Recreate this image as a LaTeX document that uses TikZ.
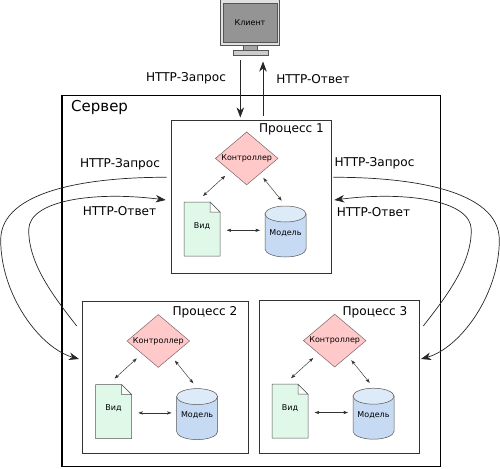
\documentclass[tikz,border=0pt]{standalone}
\usepackage{fontspec}
\setmainfont{DejaVu Sans}
\usetikzlibrary{arrows.meta,shapes.geometric}
\definecolor{ctrlfill}{HTML}{FFC9C9}
\definecolor{ctrledge}{HTML}{7A6666}
\definecolor{docfill}{HTML}{DFF8E8}
\definecolor{cylbody}{HTML}{C6DAF4}
\definecolor{cyltop}{HTML}{DDEAF8}
\definecolor{edgegrey}{HTML}{555555}
\tikzset{
  x=1pt,y=-1pt,
  box/.style={draw=black!80,line width=0.8pt,fill=white},
  servbox/.style={draw=black,line width=1.3pt},
  lbl/.style={font=\fontsize{12.1}{14}\selectfont,inner sep=0pt},
  small/.style={font=\fontsize{8}{10}\selectfont,inner sep=0pt},
  ctrl/.style={shape=diamond,draw=ctrledge,line width=0.5pt,fill=ctrlfill,aspect=1.18,inner sep=0pt,minimum width=62.7pt,minimum height=53pt,font=\fontsize{8}{10}\selectfont},
  ghost/.style={inner sep=0pt,font=\fontsize{8}{10}\selectfont},
  thin arrow/.style={draw=black!80,line width=0.45pt,{Stealth[length=4.5pt,width=3.2pt,inset=1pt]}-{Stealth[length=4.5pt,width=3.2pt,inset=1pt]}},
  big/.style={draw=black!85,line width=0.7pt,-{Stealth[length=10pt,width=7.5pt,inset=3pt]}},
}
\newcommand{\mvc}[3]{%
  \begin{scope}[shift={(#2,#3)}]
    \node[ctrl] (c#1) at (246.7,158.4) {Контроллер};
    \path[draw=edgegrey,line width=0.5pt,fill=docfill] (184,202) -- (210,202) -- (220,212) -- (220,256) -- (184,256) -- cycle;
    \path[draw=edgegrey,line width=0.5pt,fill=white!80!docfill] (210,202) -- (210,212) -- (220,212) -- cycle;
    \path[draw=edgegrey,line width=0.5pt,fill=cylbody] (265,214) -- (265,249) arc[x radius=20.5,y radius=-8,start angle=180,end angle=360] -- (306,214) -- cycle;
    \path[draw=edgegrey,line width=0.5pt,fill=cyltop] (285.5,214) ellipse[x radius=20.5,y radius=8];
    \node[ghost] (v#1) at (202,226) {Вид};
    \node[ghost] (m#1) at (285.5,233) {Модель};
    \draw[thin arrow] ([shift={(-21.5,17.4)}]c#1.center) -- ([shift={(1,-30)}]v#1.center);
    \draw[thin arrow] ([shift={(16.6,19.6)}]c#1.center) -- ([shift={(-3.8,-32.3)}]m#1.center);
    \draw[thin arrow] ([shift={(24.7,4.3)}]v#1.center) -- ([shift={(-25.5,-2.7)}]m#1.center);
  \end{scope}}
\begin{document}
\begin{tikzpicture}
\useasboundingbox (0,0) rectangle (500,468);
% client
\path[draw=edgegrey,line width=0.6pt,fill=black!12] (220.7,-1) rectangle (279.3,45);
\path[draw=edgegrey,line width=0.6pt,fill=black!42] (223.5,3.3) rectangle (277,42.7);
\path[draw=edgegrey,line width=0.5pt,fill=black!35] (243,45) rectangle (257,50.7);
\path[draw=edgegrey,line width=0.5pt,fill=black!20] (233,50.7) rectangle (268,55.7);
\node[small] (client) at (250,22.5) {Клиент};
% server and processes
\draw[servbox] (62,95.5) rectangle (440.8,466.8);
\node[font=\fontsize{15}{18}\selectfont,inner sep=0pt,anchor=west] (server) at (71,107.5) {Сервер};
\draw[box] (171.3,120.3) rectangle (331.5,273.8);
\draw[box] (82.3,301.5) rectangle (248,453.5);
\draw[box] (259,300.5) rectangle (419,453.5);
\node[lbl] (p1) at (291.5,129.5) {Процесс 1};
\node[lbl] (p2) at (205,312.7) {Процесс 2};
\node[lbl] (p3) at (375,312) {Процесс 3};
\mvc{a}{0}{0}
\mvc{b}{-88.4}{182.6}
\mvc{c}{88}{182.2}
% labels
\node[lbl] (req0) at (186,78) {HTTP-Запрос};
\node[lbl] (res0) at (313,79.5) {HTTP-Ответ};
\node[lbl] (req1) at (120,164.5) {HTTP-Запрос};
\node[lbl] (res1) at (119.5,211.5) {HTTP-Ответ};
\node[lbl] (req2) at (374.5,163.5) {HTTP-Запрос};
\node[lbl] (res2) at (373.5,212) {HTTP-Ответ};
% client arrows
\coordinate (ca) at (240.3,60.5);
\coordinate (cb) at (240.3,117.5);
\coordinate (cc) at (263,116);
\coordinate (cd) at (263,61.5);
\draw[big] (ca) -- (cb);
\draw[big] (cc) -- (cd);
% curved arrows
\coordinate (l1) at (166.7,177.3);
\coordinate (l2) at (79,359);
\coordinate (l3) at (76.7,326);
\coordinate (l4) at (165.7,200);
\coordinate (r1) at (333.3,177.3);
\coordinate (r2) at (421,359);
\coordinate (r3) at (423.3,326);
\coordinate (r4) at (334.3,200);
\draw[big] (l1) .. controls (90,177) and (0.7,190) .. (0.7,240) .. controls (0.7,295) and (40,348) .. (l2);
\draw[big] (l3) .. controls (55,298) and (28.7,265) .. (28.7,230) .. controls (28.7,200) and (95,191) .. (l4);
\draw[big] (r1) .. controls (410,177) and (499.3,190) .. (499.3,240) .. controls (499.3,295) and (460,348) .. (r2);
\draw[big] (r3) .. controls (445,298) and (471.3,265) .. (471.3,230) .. controls (471.3,200) and (405,191) .. (r4);
\end{tikzpicture}
\end{document}
